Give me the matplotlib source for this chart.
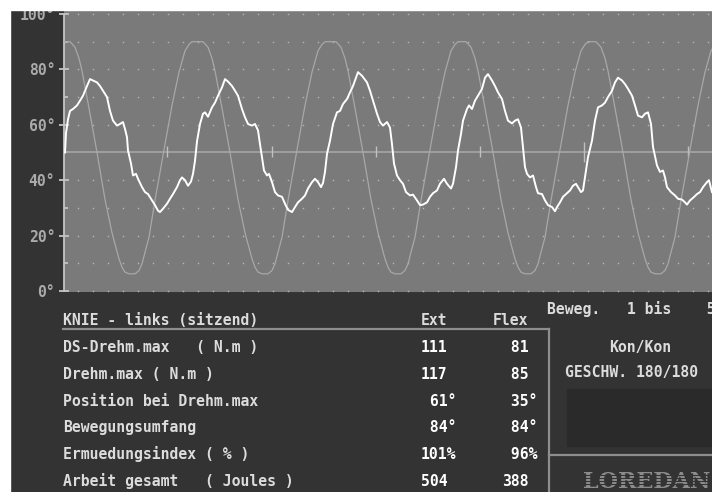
import matplotlib
matplotlib.use("Agg")
import matplotlib.pyplot as plt
from matplotlib.patches import Rectangle
from matplotlib.lines import Line2D
import numpy as np

W, H = 712, 492

# torque trace (white) - sample position, value in degrees scale
torque_x = [2, 3, 5, 7, 10, 14, 17, 20, 24, 27, 30, 34, 37, 40, 44, 47, 50, 54, 57, 60,
            62, 64, 65, 68, 70, 73, 75, 79, 82, 85, 89, 92, 95, 97, 100, 104, 107, 110, 114, 117,
            119, 122, 125, 128, 130, 132, 134, 137, 140, 142, 145, 149, 152, 155, 159, 162, 165, 169, 172, 175,
            179, 182, 185, 189, 192, 195, 197, 199, 201, 204, 206, 209, 212, 215, 219, 222, 225, 229, 232, 235,
            239, 242, 245, 249, 252, 255, 258, 260, 262, 264, 267, 270, 274, 277, 280, 284, 287, 290, 293, 295,
            299, 304, 307, 310, 314, 317, 320, 324, 327, 329, 331, 334, 337, 340, 343, 347, 350, 354, 357, 360,
            364, 367, 370, 374, 377, 381, 384, 388, 390, 393, 395, 398, 400, 404, 406, 409, 412, 415, 419, 422,
            425, 429, 432, 435, 439, 442, 445, 449, 452, 455, 458, 460, 462, 464, 467, 470, 473, 475, 479, 482,
            485, 489, 492, 494, 497, 500, 504, 507, 510, 513, 515, 518, 520, 522, 525, 529, 532, 535, 539, 542,
            545, 549, 552, 555, 559, 562, 565, 569, 572, 575, 579, 582, 585, 588, 590, 594, 597, 600, 602, 604,
            608, 612, 615, 619, 622, 624, 627, 630, 634, 637, 640, 644, 646, 649]
torque_v = [50, 57, 62, 65, 65.7, 67, 68.7, 70.5, 74, 76.5, 76, 75.3, 74, 72.3, 70, 65, 61.5, 59.7, 60.3, 61,
            58.5, 55.5, 50.7, 46, 41.7, 42.3, 40.5, 37.5, 35.7, 35, 32.7, 31, 29, 28.5, 29.7, 31.5, 33.3, 35, 37.5, 40,
            41, 40, 38, 39.5, 42.3, 47, 54, 60.3, 64, 64.5, 62.9, 66.3, 68, 70.5, 73.5, 76.5, 75.6, 74, 72.3, 70.5,
            65.7, 62.7, 60.3, 59.7, 60.3, 58, 53, 48.3, 43.5, 41.7, 42.3, 39.3, 35.7, 34.5, 34, 31.5, 29.3, 28.5, 30.3, 32,
            33.3, 34.5, 37, 39.3, 40.5, 39.3, 37.5, 39, 43, 49.5, 54.3, 60.3, 64.5, 65, 67.5, 69.3, 71.7, 74, 77, 79,
            77.7, 75.3, 72.3, 68.7, 64, 61, 59.7, 61, 59, 53, 46, 41.7, 40, 38.7, 35.7, 34.5, 34.8, 32.7, 31, 31.2,
            32, 34, 35.3, 36.3, 38.7, 40.5, 38.7, 37, 38.7, 44.7, 50.7, 56.7, 61.5, 65.7, 67, 65.7, 68.7, 70.5, 73, 77,
            78.3, 76, 74, 71.7, 69.3, 65, 61.5, 60.5, 61.5, 62, 59, 52, 44.7, 42.3, 41, 41.7, 37.5, 35.3, 35, 32.7,
            31, 30.3, 28.8, 30.3, 32, 34, 35.3, 36.3, 38, 38.7, 37.5, 35.7, 36.3, 41, 48.3, 54.3, 61.5, 66.3, 67, 68,
            70, 72.3, 75.3, 77, 76, 74.7, 73, 70.5, 67, 63.3, 62.7, 64, 64.5, 60.3, 52, 45.3, 43, 43.5, 41, 37.5,
            35.7, 34.5, 33.3, 33, 32, 31.2, 32.7, 33.6, 35, 35.7, 37.5, 39.3, 40, 35.7]

# position trace (gray)
position_x = [0, 7, 12, 16, 19, 26, 34, 42, 49, 56, 59, 62, 66, 72, 76, 79, 82, 86, 92, 102, 109, 116, 122, 126,
              129, 140, 145, 149, 152, 159, 167, 175, 182, 189, 192, 195, 199, 205, 209, 212, 215, 219, 225, 235, 242, 249, 255, 259,
              262, 273, 278, 282, 285, 292, 300, 308, 315, 322, 325, 328, 332, 338, 342, 345, 348, 352, 358, 368, 375, 382, 388, 392,
              395, 403, 408, 412, 415, 422, 430, 438, 445, 452, 455, 458, 462, 468, 472, 475, 478, 482, 488, 498, 505, 512, 518, 522,
              525, 533, 538, 542, 545, 552, 560, 568, 575, 582, 585, 588, 592, 598, 602, 605, 608, 612, 618, 628, 635, 642, 648, 652]
position_v = [90, 90, 88, 84, 79.5, 66, 50, 33, 21, 11.6, 8.6, 6.8, 6.2, 6.2, 7.4, 9.8, 14, 19.4, 32.7, 53, 67, 79, 86.7, 89,
              90, 90, 88, 84, 79.5, 66, 50, 33, 21, 11.6, 8.6, 6.8, 6.2, 6.2, 7.4, 9.8, 14, 19.4, 32.7, 53, 67, 79, 86.7, 89,
              90, 90, 88, 84, 79.5, 66, 50, 33, 21, 11.6, 8.6, 6.8, 6.2, 6.2, 7.4, 9.8, 14, 19.4, 32.7, 53, 67, 79, 86.7, 89,
              90, 90, 88, 84, 79.5, 66, 50, 33, 21, 11.6, 8.6, 6.8, 6.2, 6.2, 7.4, 9.8, 14, 19.4, 32.7, 53, 67, 79, 86.7, 89,
              90, 90, 88, 84, 79.5, 66, 50, 33, 21, 11.6, 8.6, 6.8, 6.2, 6.2, 7.4, 9.8, 14, 19.4, 32.7, 53, 67, 79, 86.7, 89]

# repetition markers on the zero line
rep_marks = [104, 209, 313, 417, 521, 625]
rep_long = 521

y_ticks = [0, 20, 40, 60, 80, 100]

row_labels = ["DS-Drehm.max   ( N.m )",
              "Drehm.max ( N.m )",
              "Position bei Drehm.max",
              "Bewegungsumfang",
              "Ermuedungsindex ( % )",
              "Arbeit gesamt   ( Joules )"]
ext_vals = [111, 117, 61, 84, 101, 504]
flex_vals = [81, 85, 35, 84, 96, 388]
units = ["", "", "°", "°", "%", ""]

BG = "#333333"
PLOT_BG = "#7a7a7a"
TXT = "#dcdcdc"
LINE = "#8e8e8e"
MONO = dict(family="DejaVu Sans Mono", weight="bold", size=10.6)


def fx(x):
    return x / W


def fy(y):
    return 1 - y / H


fig = plt.figure(figsize=(W / 100, H / 100), dpi=100, facecolor=BG)

ax = fig.add_axes([fx(64), fy(292), (712 - 64) / W, (292 - 11) / H])
ax.set_facecolor(PLOT_BG)
ax.set_xlim(1, 649)
ax.set_ylim(-0.36, 101.08)

for s in ["top", "right", "bottom"]:
    ax.spines[s].set_visible(False)
ax.spines["left"].set_color("#c4c4c4")
ax.spines["left"].set_linewidth(1.3)
ax.spines["left"].set_bounds(0, 100)
ax.set_xticks([])
ax.set_yticks(y_ticks)
ax.set_yticklabels([f"{t}°" for t in y_ticks], color="#ababab", **MONO)
ax.set_yticks([10, 30, 50, 70, 90], minor=True)
ax.tick_params(axis="y", which="major", direction="inout", length=6.5, width=1.3,
               color="#c4c4c4", pad=3)
ax.tick_params(axis="y", which="minor", direction="in", length=3.2, width=1.3,
               color="#c4c4c4")

# dotted grid every 10 degrees
dot_x = np.arange(15, 649, 15)
for lev in [0, 10, 20, 30, 40, 60, 70, 80, 90, 100]:
    ax.plot(dot_x, [lev] * len(dot_x), ls="none", marker="s", ms=1.0, mew=0,
            color="#b8b8b8", zorder=1, clip_on=False)

ax.axhline(50, color="#a6a6a6", lw=1.2, zorder=2)
for m in rep_marks:
    if m == rep_long:
        ax.vlines(m, 46.7, 53.9, color="#c0c0c0", lw=1.0, zorder=2)
    else:
        ax.vlines(m, 48.5, 52.2, color="#c0c0c0", lw=1.0, zorder=2)

ax.plot(position_x, position_v, color="#a8a8a8", lw=0.9, zorder=3)
ax.plot(torque_x, torque_v, color="white", lw=1.4, zorder=4)

# results table
fig.text(fx(63), fy(325), "KNIE - links (sitzend)", color=TXT, va="baseline", **MONO)
fig.text(fx(421), fy(325), "Ext", color=TXT, va="baseline", **MONO)
fig.text(fx(493), fy(325), "Flex", color=TXT, va="baseline", **MONO)
for i, lab in enumerate(row_labels):
    yb = 352 + i * 26.8
    fig.text(fx(63), fy(yb), lab, color=TXT, va="baseline", **MONO)
    fig.text(fx(421), fy(yb), f"{ext_vals[i]:>3}{units[i]}", color="white", va="baseline", **MONO)
    fig.text(fx(502), fy(yb), f"{flex_vals[i]:>3}{units[i]}", color="white", va="baseline", **MONO)

fig.add_artist(Line2D([fx(63), fx(549)], [fy(329), fy(329)], color=LINE, lw=1.6,
                      transform=fig.transFigure))
fig.add_artist(Line2D([fx(549), fx(549)], [fy(329), fy(492)], color=LINE, lw=1.6,
                      transform=fig.transFigure))
fig.add_artist(Line2D([fx(549), fx(712)], [fy(455), fy(455)], color=LINE, lw=1.6,
                      transform=fig.transFigure))

# side panel
fig.text(fx(547), fy(314), "Beweg.   1 bis    5", color=TXT, va="baseline", **MONO)
fig.text(fx(609), fy(352), "Kon/Kon", color=TXT, va="baseline", **MONO)
fig.text(fx(565), fy(377), "GESCHW. 180/180", color=TXT, va="baseline", **MONO)
fig.patches.append(Rectangle((fx(567), fy(446)), (712 - 567) / W, (446 - 389) / H,
                             transform=fig.transFigure, color="#2a2a2a", zorder=1))
fig.text(fx(583), fy(488), "LOREDAN", color="#8c8c8c", va="baseline",
         family="DejaVu Serif", weight="bold", size=16, zorder=5)
# scanline stripes across the logo
for yy in [474.5, 477.5, 480.5, 483.5]:
    fig.add_artist(Line2D([fx(578), fx(712)], [fy(yy), fy(yy)], color=BG, lw=0.75,
                          transform=fig.transFigure, zorder=6))

# white frame on the top and left edge
fig.patches.append(Rectangle((0, fy(10)), 1, 10 / H, transform=fig.transFigure,
                             color="white", zorder=20))
fig.patches.append(Rectangle((0, 0), 10 / W, 1, transform=fig.transFigure,
                             color="white", zorder=20))

fig.savefig("out.png", dpi=100, facecolor=BG)
